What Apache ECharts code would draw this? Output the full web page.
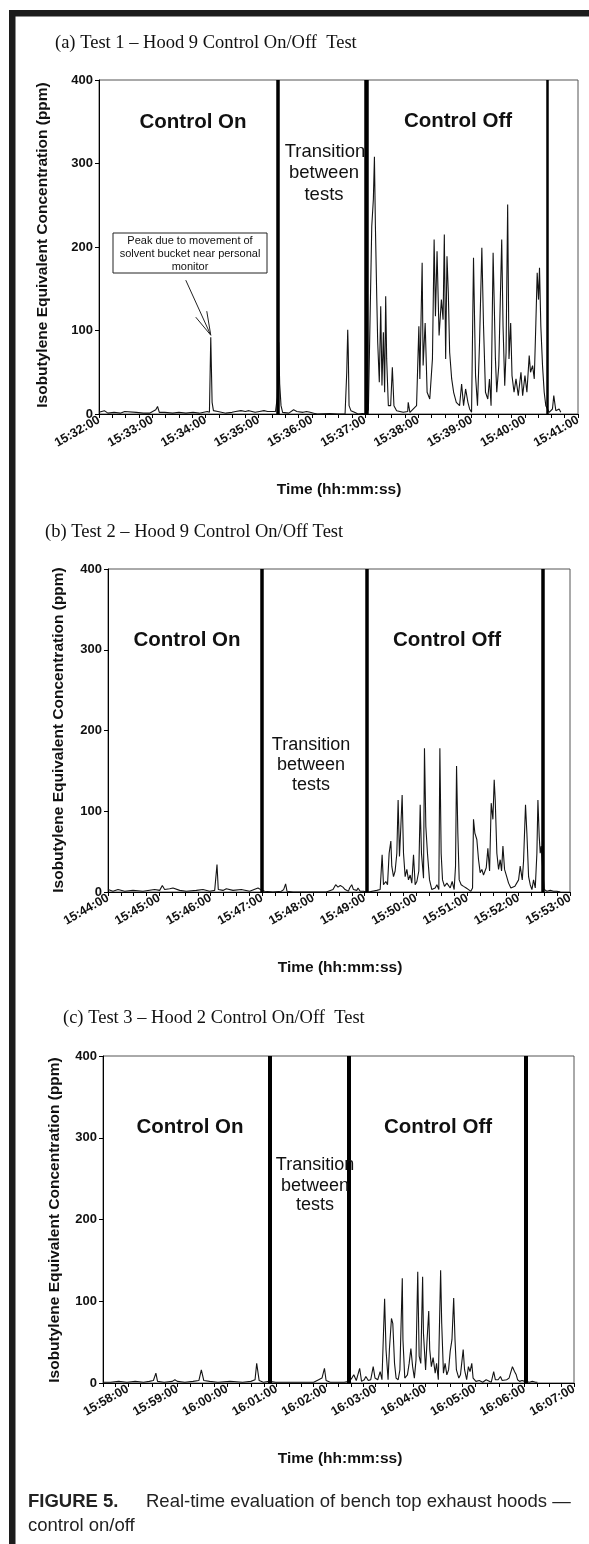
<!DOCTYPE html>
<html>
<head>
<meta charset="utf-8">
<script src="https://cdn.jsdelivr.net/npm/echarts@6/dist/echarts.min.js"></script>
<style>
html,body{margin:0;padding:0;background:#fff;}
#c{width:589px;height:1544px;}
</style>
</head>
<body>
<div id="c"></div>
<script>
// ---------- data (time in seconds after each panel's base time, value in ppm) ----------
const yTicks = [0, 100, 200, 300, 400];

const aBase = '15:32:00';
const aAxis = ['15:32:00', '15:41:00'];
const aLines = ['15:35:21', '15:37:01', '15:40:25'];
const aData = [
 [0,2],[6,4],[10,1],[17,2],[24,1],[29,3],[31,1],[42,2],[50,1],[57,1],[64,5],[66,9],[68,2],[74,2],[83,1],[90,2],[98,1],[106,2],[113,1],[122,3],[124.5,2],[126,92],[127.5,14],[129,4],[134,3],[143,1],[150,2],[154,3],[160,4],[165,3],[169,4],[176,2],[181,3],[186,4],[190,3],[195,3],[199,3],
 [201,20],[202.6,86],[203.7,36],[205.2,10],[207,2],[214,1],[219.4,5],[223,3],[230,2],[234,3],[238,2],[242,1],[246,0],[260,0.5],[270,0],[277.4,0],[279.3,50],[280.4,101],[281,76],[281.9,10],[284,4],[288,2],[292,0],[297,0.5],[301,0],
 [303.7,5],[307.5,225],[309.3,257],[310.5,308],[311.6,225],[313.1,141],[314.2,86],[316,38],[317.6,129],[319,34],[320.6,98],[322,26],[323.2,141],[324.3,66],[326.2,10],[328.8,10],[330.7,56],[332.5,10],[335.5,4],[343,2],[348,3],[348.6,14],[350.5,2],[358,10],[360.6,105],[361.7,42],[364.3,181],[365.4,58],[367.7,109],[369.9,26],[372.9,18],[375.9,66],[377.8,209],[379.3,117],[381.1,195],[383.4,94],[386,137],[387.9,113],[389.3,215],[390.8,66],[392.3,189],[393.8,145],[395.3,74],[397.6,42],[399.8,26],[402.8,14],[406.5,10],[408.8,36],[411,10],[413.3,30],[415.9,14],[417.8,6],[420,2],[422.2,187],[424.5,46],[426.7,10],[429,86],[431.6,199],[433.5,105],[435.7,26],[438.3,18],[440.2,42],[442,10],[444.3,193],[445.8,121],[446.9,66],[448.4,26],[450.7,58],[454,209],[455.5,105],[457.4,34],[458.9,74],[460.7,251],[462.2,66],[464.1,109],[465.6,46],[467.9,26],[470.1,42],[472.7,22],[475.7,50],[477.6,22],[480.2,46],[482.4,26],[485,70],[486.5,50],[488.8,58],[490.7,42],[492.5,109],[494,169],[495.5,137],[496.6,175],[498.1,105],[500,58],[501.9,26],[503.7,10],[507.5,2],[511.2,6],[512.7,22],[515,4],[518.7,6],[520.6,2]
];
const aPeak = [126, 92];

const bBase = '15:44:00';
const bAxis = ['15:44:00', '15:53:00'];
const bLines = ['15:47:00', '15:49:02', '15:52:28'];
const bData = [
 [0,3],[1.9,3],[5.8,1],[11.7,3],[19.5,1],[29.2,2],[40.9,1],[54.5,3],[60.4,2],[63.5,8],[66.2,3],[72.1,4],[76,5],[83.8,2],[91.5,1],[103.2,2],[111,3],[118.8,1],[124.7,2],[127.4,34],[128.9,3],[134.4,2],[138.3,4],[146.1,2],[155.8,3],[165.6,1],[175.3,5],[177.2,3],[180,2],[183.1,1],[192.8,0],[202.6,1],[205.3,3],[207.6,10],[209.2,1],[216.2,0],[239.6,0],[255.2,0],[263,3],[266.1,9],[268.8,6],[271.5,8],[274.6,6],[277.1,3],[278.5,2],[281.1,1],[282.4,5],[284.9,9],[285.5,10],[286.9,3],[288.3,3],[290.8,2],[292.2,5],[294.7,1],[298.6,1],[301.7,0],[304.4,0],[314.2,2],[318.1,3],[320.4,46],[322,9],[324.7,13],[326.7,9],[328.6,48],[330.6,63],[331.7,32],[333.7,19],[335.6,26],[337.6,48],[339.1,114],[340.7,44],[342.3,81],[343.8,120],[345.4,48],[347.3,19],[349.3,28],[351.2,15],[353.2,21],[355.1,11],[357.1,46],[359,9],[361,13],[363.3,26],[364.9,108],[366.4,48],[368.8,17],[369.9,178],[371.5,81],[373.4,48],[375.8,15],[378.5,3],[382.4,5],[384.4,9],[386.7,3],[387.9,178],[389.4,48],[391,15],[393.3,7],[396.1,11],[400,5],[402.3,13],[404.6,3],[406.2,32],[407.4,156],[408.9,73],[410.5,15],[412.8,9],[415.6,7],[418.7,5],[421.4,3],[424.1,1],[426.1,5],[427.2,90],[428.8,73],[431.1,65],[433.1,40],[435,24],[437,28],[438.9,21],[442.1,30],[444,54],[446,26],[447.9,110],[449.9,90],[451.4,139],[452.6,114],[454.5,48],[456.5,28],[458.4,40],[460,26],[461.6,57],[463.5,28],[465.5,21],[468.2,11],[470.9,5],[473.2,3],[475.6,7],[477.9,9],[479.9,15],[481.8,32],[484.2,15],[485.7,38],[488,108],[489.6,73],[491.6,19],[493.5,9],[495.5,3],[497.4,15],[499.4,5],[501.3,48],[502.5,114],[504,69],[505.2,48],[506.4,57],[508,30],[509.9,3],[513,1],[516.9,2],[520.8,1],[524.7,1],[528.6,0]
];

const cBase = '15:57:24';
const cAxis = ['15:57:30', '16:07:00'];
const cLines = ['16:00:52', '16:02:28', '16:06:02'];
const cData = [
 [6,1],[8,2],[15,1],[25,2],[35,1],[45,2],[55,1],[62,2],[67,3],[70,12],[72,2],[80,1],[90,2],[93,4],[96,2],[105,1],[115,2],[122,3],[125,16],[128,3],[135,2],[145,1],[160,2],[175,1],[185,2],[190,4],[192,24],[195,3],[200,1],[207,2],[215,1],[225,1],[240,1],[255,1],[261,1],[263,3],[267,4],[271,6],[274,18],[276,3],[281,1],[290,1],[298,1],[304,2],
 [307.1,6],[309.5,10],[312.5,3],[316.6,18],[318.9,2],[322.2,4],[324.1,8],[327.1,3],[330,4],[333,20],[335.2,6],[338.5,4],[341.4,14],[343.6,4],[346.8,103],[348.5,41],[351,4],[352.6,41],[355.1,79],[356.7,73],[358.8,24],[360.7,6],[363.2,4],[365.3,16],[368.2,128],[369,53],[371.2,6],[374.4,10],[376.5,24],[378.6,42],[380.7,20],[382.8,6],[384.8,28],[386.9,136],[388.6,33],[390.6,24],[392.8,130],[393.8,61],[396.4,16],[398,49],[400.2,88],[401.4,41],[403.4,20],[405.5,31],[408,12],[409.7,24],[411.8,4],[414.6,138],[415.9,73],[418,12],[420,24],[422.1,10],[424.2,16],[426.2,39],[428.3,53],[430.4,104],[432,53],[433.7,16],[436.6,6],[438.6,10],[441.9,41],[443.6,16],[446.1,4],[448.2,20],[450.2,14],[452.3,24],[453.9,6],[457.3,2],[461.4,3],[465.5,1],[469.7,4],[471.7,2],[475.9,1],[478.8,14],[480.8,4],[484.2,4],[487,8],[489.1,3],[494.5,4],[497.4,6],[501.5,20],[504,14],[506.1,10],[507.7,4],[510.2,2],[513.1,3],[516.4,2],[522.2,1],[525.5,2],[527.6,4],[529.7,1],[531.7,1]
];

const titles = ['(a) Test 1 \u2013 Hood 9 Control On/Off  Test', '(b) Test 2 \u2013 Hood 9 Control On/Off Test', '(c) Test 3 \u2013 Hood 2 Control On/Off  Test'];
const yTitle = 'Isobutylene Equivalent Concentration (ppm)';
const xTitle = 'Time (hh:mm:ss)';
const caption1 = 'FIGURE 5.';
const caption2 = 'Real-time evaluation of bench top exhaust hoods \u2014';
const caption3 = 'control on/off';
const noteText = 'Peak due to movement of\nsolvent bucket near personal\nmonitor';

// ---------- helpers ----------
const sec = s => { const p = s.split(':').map(Number); return p[0]*3600 + p[1]*60 + p[2]; };
const fmt = v => { v = Math.round(v); if (v % 60 !== 0) return ''; const h = Math.floor(v/3600), m = Math.floor((v%3600)/60), s = v%60; return h + ':' + String(m).padStart(2,'0') + ':' + String(s).padStart(2,'0'); };
const SANS = 'Liberation Sans, Arial, sans-serif';
const SERIF = 'Liberation Serif, Times New Roman, serif';
const INK = '#111';

const panels = [
  {base:aBase, axis:aAxis, lines:aLines, data:aData, widths:[3.5,4.5,2.5], grid:{left:99, top:80, width:479, height:334}},
  {base:bBase, axis:bAxis, lines:bLines, data:bData, widths:[3.5,3.5,3.5], grid:{left:108, top:569, width:462, height:323}},
  {base:cBase, axis:cAxis, lines:cLines, data:cData, widths:[4,4,4], grid:{left:103, top:1056, width:471, height:327}}
];

const grids = [], xAxes = [], yAxes = [], series = [];
panels.forEach((p, i) => {
  grids.push(Object.assign({show:true, borderColor:'#555', borderWidth:1, backgroundColor:'transparent', containLabel:false}, p.grid));
  xAxes.push({
    type:'value', gridIndex:i, min:sec(p.axis[0]), max:sec(p.axis[1]), interval:15,
    axisLine:{show:true, onZero:false, lineStyle:{color:'#000', width:1}},
    axisTick:{show:true, inside:false, length:4, lineStyle:{color:'#000', width:1}},
    splitLine:{show:false},
    axisLabel:{show:true, rotate:30, margin:5, formatter:fmt, color:INK, fontFamily:SANS, fontWeight:'bold', fontSize:12.5, showMinLabel:true, showMaxLabel:true}
  });
  yAxes.push({
    type:'value', gridIndex:i, min:yTicks[0], max:yTicks[yTicks.length-1], interval:yTicks[1]-yTicks[0],
    axisLine:{show:true, lineStyle:{color:'#000', width:1}},
    axisTick:{show:true, inside:false, length:4, lineStyle:{color:'#000', width:1}},
    splitLine:{show:false},
    axisLabel:{color:INK, fontFamily:SANS, fontWeight:'bold', fontSize:13, margin:6}
  });
  const b = sec(p.base);
  series.push({
    type:'line', xAxisIndex:i, yAxisIndex:i, showSymbol:false, symbol:'none', animation:false,
    lineStyle:{color:'#141414', width:1.1}, clip:true,
    data:p.data.map(d => [b + d[0], d[1]]),
    markLine:{
      silent:true, symbol:['none','none'], animation:false, label:{show:false},
      data:p.lines.map((t, k) => ({xAxis:sec(t), lineStyle:{color:'#000', width:p.widths[k], type:'solid'}}))
    }
  });
});

const txt = (text, x, y, size, opts) => Object.assign({
  type:'text', x:x, y:y, z:100, silent:true,
  style:Object.assign({text:text, fill:INK, fontFamily:SANS, fontSize:size, fontWeight:'normal',
    textAlign:'center', align:'center', textVerticalAlign:'middle', verticalAlign:'middle'}, opts && opts.style)
}, opts && opts.el);

const graphics = [
  // frame
  {type:'rect', z:100, shape:{x:9, y:10, width:6.5, height:1540}, style:{fill:'#1c1c1c'}},
  {type:'rect', z:100, shape:{x:9, y:10, width:585, height:6.5}, style:{fill:'#1c1c1c'}},
  // panel titles
  txt(titles[0], 55, 43, 18.5, {style:{fontFamily:SERIF, textAlign:'left', align:'left'}}),
  txt(titles[1], 45, 532, 18.5, {style:{fontFamily:SERIF, textAlign:'left', align:'left'}}),
  txt(titles[2], 63, 1018, 18.5, {style:{fontFamily:SERIF, textAlign:'left', align:'left'}}),
  // y titles
  txt(yTitle, 43, 245, 15.5, {style:{fontWeight:'bold'}, el:{rotation:Math.PI/2}}),
  txt(yTitle, 59, 730, 15.5, {style:{fontWeight:'bold'}, el:{rotation:Math.PI/2}}),
  txt(yTitle, 55, 1220, 15.5, {style:{fontWeight:'bold'}, el:{rotation:Math.PI/2}}),
  // x titles
  txt(xTitle, 339, 490, 15.5, {style:{fontWeight:'bold'}}),
  txt(xTitle, 340, 968, 15.5, {style:{fontWeight:'bold'}}),
  txt(xTitle, 340, 1459, 15.5, {style:{fontWeight:'bold'}}),
  // region labels (a)
  txt('Control On', 193, 122, 20.5, {style:{fontWeight:'bold'}}),
  txt('Transition', 325, 152, 18.5),
  txt('between', 324, 173, 18.5),
  txt('tests', 324, 195, 18.5),
  txt('Control Off', 458, 121, 20.5, {style:{fontWeight:'bold'}}),
  // (b)
  txt('Control On', 187, 640, 20.5, {style:{fontWeight:'bold'}}),
  txt('Transition', 311, 745, 18),
  txt('between', 311, 765, 18),
  txt('tests', 311, 785, 18),
  txt('Control Off', 447, 640, 20.5, {style:{fontWeight:'bold'}}),
  // (c)
  txt('Control On', 190, 1127, 20.5, {style:{fontWeight:'bold'}}),
  txt('Transition', 315, 1165, 18),
  txt('between', 315, 1186, 18),
  txt('tests', 315, 1205, 18),
  txt('Control Off', 438, 1127, 20.5, {style:{fontWeight:'bold'}}),
  // annotation box
  {type:'rect', z:100, shape:{x:113, y:233, width:154, height:40}, style:{fill:'#fff', stroke:'#222', lineWidth:1}},
  txt(noteText, 190, 254, 11, {style:{lineHeight:13}}),
  // caption
  txt(caption1, 28, 1502, 18.5, {style:{fontWeight:'bold', textAlign:'left', align:'left', fill:'#222'}}),
  txt(caption2, 146, 1502, 18.5, {style:{textAlign:'left', align:'left', fill:'#222'}}),
  txt(caption3, 28, 1526, 18.5, {style:{textAlign:'left', align:'left', fill:'#222'}})
];

const chart = echarts.init(document.getElementById('c'), null, {renderer:'canvas', width:589, height:1544});
chart.setOption({
  backgroundColor:'#fff', animation:false,
  grid:grids, xAxis:xAxes, yAxis:yAxes, series:series, graphic:graphics
});

// arrow pointing at the peak, tip anchored to the data point
const tip = chart.convertToPixel({gridIndex:0}, [sec(aBase) + aPeak[0], aPeak[1]]);
const tx = tip[0], ty = tip[1] - 2;
graphics.push(
  {type:'line', z:100, shape:{x1:tx-25, y1:ty-55, x2:tx, y2:ty}, style:{stroke:'#222', lineWidth:1}},
  {type:'polyline', z:100, shape:{points:[[tx-15, ty-18], [tx, ty], [tx-4, ty-24]]}, style:{stroke:'#222', lineWidth:1, fill:null}}
);
chart.setOption({graphic:graphics}, {replaceMerge:['graphic']});
</script>
</body>
</html>
